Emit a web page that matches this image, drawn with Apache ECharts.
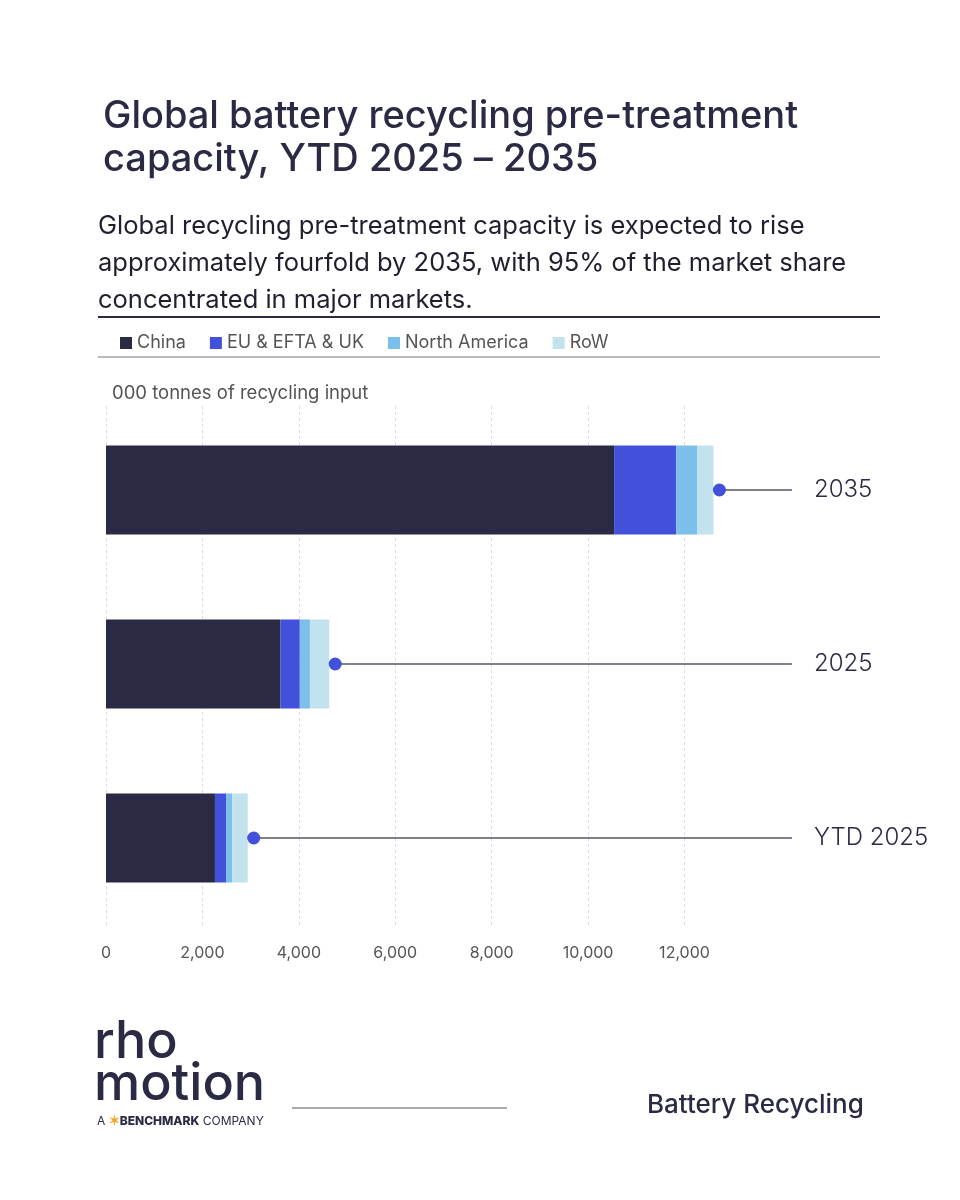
<!DOCTYPE html>
<html>
<head>
<meta charset="utf-8">
<script src="https://cdn.jsdelivr.net/npm/echarts@6/dist/echarts.min.js"></script>
<style>
  html, body { margin: 0; padding: 0; background: #fff; }
  #main { width: 960px; height: 1200px; }
</style>
</head>
<body>
<div id="main"></div>
<script>
// data, 000 tonnes of recycling input
var years = ['YTD 2025', '2025', '2035'];
var china = [2260, 3620, 10540];
var eu = [230, 400, 1290];
var northAmerica = [130, 210, 430];
var row = [320, 400, 340];
var xTicks = [0, 2000, 4000, 6000, 8000, 10000, 12000];

var INK = '#2a2a44';
var X_END = 14230;

var totals = years.map(function (y, i) {
  return china[i] + eu[i] + northAmerica[i] + row[i];
});

var font = 'Inter, "Noto Sans", sans-serif';
var myChart = echarts.init(document.getElementById('main'));

function barSeries(name, data, color) {
  return {
    name: name,
    type: 'bar',
    stack: 'total',
    barWidth: 89,
    itemStyle: { color: color },
    data: data,
    z: 3
  };
}

var series = [
  barSeries('China', china, INK),
  barSeries('EU & EFTA & UK', eu, '#4350d9'),
  barSeries('North America', northAmerica, '#7bbfea'),
  barSeries('RoW', row, '#c2e2ee')
];

// dashed grid lines only up to 12,000
series[0].markLine = {
  silent: true,
  symbol: 'none',
  label: { show: false },
  lineStyle: { color: '#dcdcdc', type: [3, 3], width: 1 },
  data: xTicks.map(function (v) { return { xAxis: v }; }),
  z: 1
};

// connector lines from total to the label
years.forEach(function (y, i) {
  series.push({
    type: 'line',
    symbol: 'none',
    silent: true,
    lineStyle: { color: '#55566a', width: 1.5 },
    data: [[totals[i], y], [X_END, y]],
    z: 4
  });
});

series.push({
  type: 'scatter',
  symbolSize: 13,
  symbolOffset: [6, 0],
  itemStyle: { color: '#4350d9', opacity: 1 },
  data: years.map(function (y, i) { return [totals[i], y]; }),
  z: 5
});

var option = {
  backgroundColor: '#fff',
  animation: false,
  textStyle: { fontFamily: font },
  legend: {
    data: ['China', 'EU & EFTA & UK', 'North America', 'RoW'],
    left: 115,
    top: 329,
    icon: 'rect',
    itemWidth: 12,
    itemHeight: 12,
    itemGap: 24,
    textStyle: { fontSize: 18, color: '#555', fontFamily: font }
  },
  grid: { left: 106, right: 168, top: 403, bottom: 275 },
  xAxis: {
    type: 'value',
    min: 0,
    max: X_END,
    interval: 2000,
    splitLine: { show: false },
    axisLine: { show: false },
    axisTick: { show: false },
    axisLabel: {
      margin: 20,
      fontSize: 16,
      color: '#555',
      formatter: function (v) {
        return v > 12000 ? '' : v.toLocaleString('en-US');
      }
    }
  },
  yAxis: {
    type: 'category',
    data: years,
    position: 'right',
    axisLine: { show: false },
    axisTick: { show: false },
    axisLabel: {
      margin: 22,
      align: 'left',
      fontSize: 24,
      fontWeight: 300,
      color: INK
    }
  },
  graphic: [
    {
      type: 'text', left: 103, top: 95,
      style: {
        text: 'Global battery recycling pre-treatment\ncapacity, YTD 2025 \u2013 2035',
        font: '500 38px ' + font, fill: INK, lineHeight: 43
      }
    },
    {
      type: 'text', left: 98, top: 208,
      style: {
        text: 'Global recycling pre-treatment capacity is expected to rise\napproximately fourfold by 2035, with 95% of the market share\nconcentrated in major markets.',
        font: '400 25.5px ' + font, fill: '#1f1f2e', lineHeight: 37
      }
    },
    {
      type: 'line', shape: { x1: 98, y1: 317, x2: 880, y2: 317 },
      style: { stroke: INK, lineWidth: 2 }
    },
    {
      type: 'line', shape: { x1: 98, y1: 357, x2: 880, y2: 357 },
      style: { stroke: '#777', lineWidth: 1 }
    },
    {
      type: 'text', left: 112, top: 384,
      style: { text: '000 tonnes of recycling input', font: '400 18.5px ' + font, fill: '#555' }
    },
    // footer logo
    {
      type: 'text', left: 94, top: 1016,
      style: { text: 'rho\nmotion', font: '500 52px ' + font, fill: INK, lineHeight: 42 }
    },
    {
      type: 'text', left: 97, top: 1115,
      style: {
        text: '{a|A }{i|\u2736}{b|BENCHMARK}{a| COMPANY}',
        rich: {
          a: { font: '400 12px ' + font, fill: INK },
          i: { font: '700 13px ' + font, fill: '#f5a623' },
          b: { font: '800 12px ' + font, fill: INK }
        }
      }
    },
    {
      type: 'line', shape: { x1: 292, y1: 1108, x2: 507, y2: 1108 },
      style: { stroke: '#aaa', lineWidth: 2 }
    },
    {
      type: 'text', left: 647, top: 1092,
      style: { text: 'Battery Recycling', font: '500 26px ' + font, fill: INK }
    }
  ],
  series: series
};

myChart.setOption(option);
</script>
</body>
</html>
